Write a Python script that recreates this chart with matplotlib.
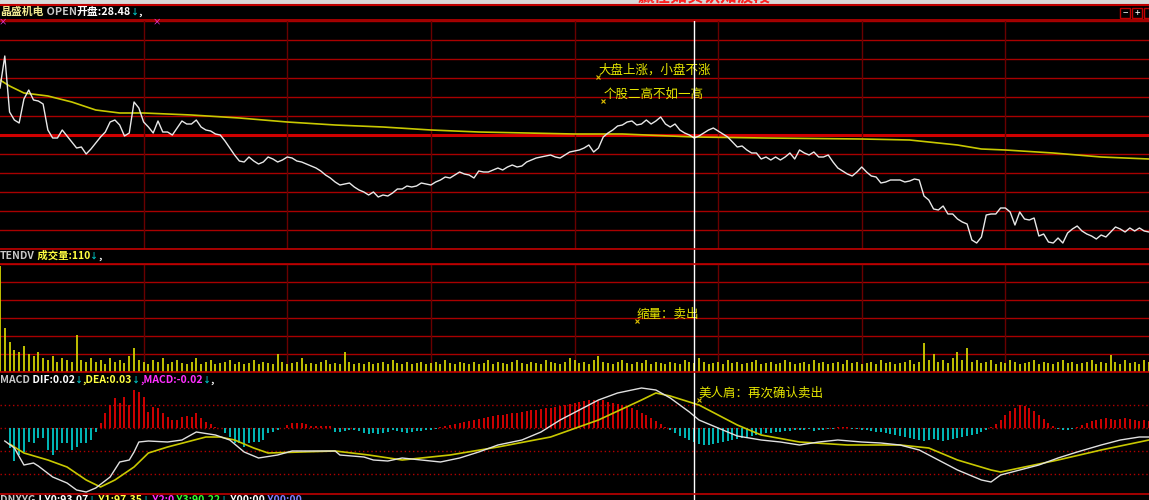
import matplotlib
matplotlib.use('Agg')
import matplotlib.pyplot as plt
from matplotlib.lines import Line2D
from matplotlib.patches import Rectangle
import numpy as np

plt.rcParams['font.family'] = ['Noto Sans CJK SC', 'DejaVu Sans']

# ---- data ----
prev_close = 28.01
price = [28.48, 28.80, 28.24, 28.16, 28.13, 28.37, 28.46, 28.36, 28.35, 28.32,
         28.06, 27.98, 27.98, 28.06, 28.00, 27.94, 27.88, 27.89, 27.82, 27.87,
         27.93, 27.99, 28.04, 28.14, 28.16, 28.11, 28.00, 28.03, 28.34, 28.28,
         28.14, 28.09, 28.03, 28.15, 28.04, 28.04, 28.01, 28.08, 28.15, 28.12,
         28.12, 28.16, 28.09, 28.06, 28.05, 28.02, 28.01, 27.95, 27.88, 27.81,
         27.75, 27.74, 27.79, 27.75, 27.72, 27.74, 27.79, 27.77, 27.74, 27.76,
         27.79, 27.78, 27.75, 27.74, 27.72, 27.70, 27.68, 27.65, 27.61, 27.58,
         27.54, 27.51, 27.52, 27.53, 27.49, 27.46, 27.44, 27.41, 27.44, 27.39,
         27.41, 27.40, 27.43, 27.47, 27.47, 27.50, 27.49, 27.50, 27.53, 27.52,
         27.51, 27.54, 27.56, 27.59, 27.58, 27.61, 27.64, 27.62, 27.61, 27.58,
         27.65, 27.64, 27.64, 27.66, 27.68, 27.66, 27.69, 27.71, 27.69, 27.70,
         27.74, 27.76, 27.78, 27.79, 27.80, 27.81, 27.79, 27.78, 27.81, 27.84,
         27.85, 27.86, 27.88, 27.91, 27.84, 27.88, 27.99, 28.03, 28.06, 28.10,
         28.11, 28.14, 28.15, 28.11, 28.12, 28.16, 28.12, 28.15, 28.19, 28.12,
         28.09, 28.12, 28.06, 28.03, 28.01, 27.98, 28.00, 28.03, 28.06, 28.08,
         28.05, 28.02, 27.99, 27.94, 27.89, 27.90, 27.86, 27.83, 27.83, 27.77,
         27.79, 27.76, 27.79, 27.76, 27.79, 27.83, 27.77, 27.86, 27.83, 27.81,
         27.84, 27.79, 27.79, 27.81, 27.74, 27.68, 27.65, 27.62, 27.60, 27.64,
         27.69, 27.64, 27.60, 27.59, 27.53, 27.54, 27.56, 27.56, 27.56, 27.54,
         27.55, 27.57, 27.56, 27.40, 27.36, 27.27, 27.26, 27.30, 27.22, 27.22,
         27.17, 27.14, 27.12, 26.96, 26.93, 26.99, 27.21, 27.22, 27.22, 27.28,
         27.28, 27.24, 27.11, 27.24, 27.17, 27.16, 27.18, 27.00, 27.02, 26.94,
         26.93, 26.98, 26.93, 27.03, 27.07, 27.10, 27.05, 27.02, 27.00, 26.97,
         27.01, 26.99, 27.04, 27.09, 27.07, 27.04, 27.08, 27.05, 27.08, 27.05,
         27.04]

avg_min = [0, 2, 5, 10, 15, 20, 25, 30, 40, 50, 60, 70, 80, 90, 100, 110, 120,
           130, 145, 160, 180, 190, 200, 205, 210, 220, 230, 240]
avg_price = [28.56, 28.50, 28.43, 28.40, 28.34, 28.26, 28.23, 28.23, 28.21, 28.18,
             28.14, 28.11, 28.09, 28.06, 28.04, 28.03, 28.02, 28.02, 27.99, 27.98,
             27.97, 27.96, 27.91, 27.87, 27.86, 27.83, 27.79, 27.77]

volume = [106, 44, 30, 22, 20, 26, 18, 16, 20, 14,
          12, 16, 10, 14, 12, 10, 37, 12, 10, 14,
          10, 12, 8, 14, 10, 12, 9, 16, 24, 12,
          10, 8, 12, 10, 14, 8, 10, 12, 9, 8,
          10, 14, 8, 10, 12, 8, 9, 10, 12, 8,
          10, 8, 9, 12, 8, 10, 9, 8, 18, 10,
          8, 9, 10, 14, 8, 9, 8, 10, 12, 8,
          9, 8, 20, 10, 8, 9, 8, 10, 8, 9,
          10, 8, 12, 9, 8, 10, 8, 9, 10, 8,
          9, 10, 8, 12, 9, 8, 10, 9, 8, 10,
          8, 9, 12, 8, 10, 9, 8, 10, 12, 9,
          8, 10, 9, 8, 12, 10, 9, 8, 10, 14,
          12, 9, 10, 8, 12, 16, 10, 9, 8, 10,
          12, 9, 8, 10, 9, 12, 8, 10, 9, 8,
          10, 9, 8, 12, 10, 9, 14, 10, 8, 9,
          10, 8, 12, 9, 10, 8, 9, 10, 12, 8,
          9, 10, 8, 9, 12, 10, 8, 9, 10, 8,
          12, 9, 10, 8, 9, 10, 8, 12, 9, 10,
          8, 9, 10, 8, 12, 9, 10, 8, 9, 10,
          12, 8, 10, 29, 12, 18, 10, 12, 9, 14,
          20, 12, 24, 10, 12, 9, 10, 12, 8, 10,
          9, 12, 10, 8, 9, 10, 12, 8, 10, 9,
          8, 10, 12, 9, 10, 8, 9, 10, 12, 8,
          10, 9, 17, 10, 8, 12, 9, 10, 8, 12,
          10]

macd_hist = [0, 0, -0.040, -0.066, -0.054, -0.048, -0.028, -0.030, -0.020, -0.020,
             -0.044, -0.054, -0.044, -0.030, -0.030, -0.044, -0.038, -0.030, -0.030, -0.024,
             -0.008, 0.010, 0.030, 0.046, 0.060, 0.050, 0.062, 0.046, 0.076, 0.072,
             0.062, 0.032, 0.042, 0.040, 0.030, 0.022, 0.016, 0.016, 0.022, 0.024,
             0.022, 0.030, 0.020, 0.012, 0.008, 0.002, 0, -0.010, -0.018, -0.030,
             -0.030, -0.038, -0.030, -0.028, -0.028, -0.024, -0.010, -0.008, -0.004, 0,
             0.006, 0.010, 0.010, 0.010, 0.008, 0.004, 0.004, 0.004, 0.004, 0.004,
             -0.008, -0.008, -0.006, -0.004, -0.004, -0.006, -0.010, -0.012, -0.010, -0.012,
             -0.010, -0.008, -0.004, -0.006, -0.008, -0.010, -0.008, -0.006, -0.006, -0.004,
             -0.004, -0.002, 0.002, 0.004, 0.006, 0.008, 0.010, 0.012, 0.014, 0.016,
             0.018, 0.020, 0.022, 0.024, 0.026, 0.026, 0.028, 0.030, 0.030, 0.032,
             0.034, 0.036, 0.036, 0.038, 0.040, 0.040, 0.042, 0.044, 0.046, 0.048,
             0.050, 0.052, 0.054, 0.056, 0.056, 0.054, 0.056, 0.052, 0.050, 0.048,
             0.046, 0.042, 0.040, 0.036, 0.030, 0.026, 0.020, 0.014, 0.008, 0.002,
             -0.004, -0.010, -0.016, -0.020, -0.024, -0.028, -0.032, -0.034, -0.034, -0.032,
             -0.030, -0.028, -0.026, -0.024, -0.022, -0.020, -0.018, -0.016, -0.014, -0.012,
             -0.010, -0.010, -0.008, -0.008, -0.006, -0.006, -0.004, -0.004, -0.004, -0.002,
             -0.006, -0.004, -0.004, -0.002, -0.002, 0.002, 0.002, 0.002, -0.002, -0.002,
             -0.004, -0.004, -0.006, -0.008, -0.008, -0.010, -0.012, -0.014, -0.016, -0.018,
             -0.020, -0.022, -0.024, -0.026, -0.024, -0.022, -0.024, -0.026, -0.024, -0.022,
             -0.020, -0.018, -0.016, -0.014, -0.012, -0.008, -0.004, 0.002, 0.008, 0.016,
             0.026, 0.034, 0.040, 0.046, 0.044, 0.040, 0.034, 0.026, 0.018, 0.010,
             0.004, -0.002, -0.004, -0.004, -0.002, 0.002, 0.006, 0.010, 0.014, 0.016,
             0.018, 0.020, 0.018, 0.016, 0.018, 0.020, 0.018, 0.016, 0.014, 0.016,
             0.014]

dif_min = [1, 3, 5, 7, 8, 11, 14, 16, 18, 20, 23, 25, 27, 28, 29, 31, 35, 38, 41, 45,
           48, 51, 54, 58, 61, 65, 70, 71, 76, 78, 81, 84, 88, 92, 96, 100, 104, 109,
           113, 117, 121, 125, 129, 134, 137, 140, 142, 144, 146, 150, 154, 159, 163,
           167, 171, 175, 180, 184, 188, 192, 196, 200, 205, 207, 209, 213, 217, 221,
           225, 230, 234, 238, 240]
dif = [-0.026, -0.040, -0.074, -0.070, -0.076, -0.098, -0.110, -0.124, -0.128, -0.120,
       -0.098, -0.068, -0.064, -0.048, -0.028, -0.026, -0.028, -0.024, -0.008, -0.014,
       -0.024, -0.048, -0.060, -0.054, -0.046, -0.046, -0.046, -0.054, -0.058, -0.064,
       -0.066, -0.060, -0.064, -0.068, -0.060, -0.048, -0.034, -0.024, -0.008, 0.016,
       0.036, 0.056, 0.070, 0.080, 0.076, 0.060, 0.046, 0.032, 0.016, 0.000,
       -0.016, -0.024, -0.028, -0.034, -0.028, -0.024, -0.028, -0.030, -0.034, -0.044,
       -0.064, -0.084, -0.104, -0.108, -0.094, -0.084, -0.074, -0.060, -0.048, -0.034,
       -0.024, -0.018, -0.018]

dea_min = [2, 5, 10, 14, 18, 21, 24, 28, 31, 35, 39, 43, 46, 49, 53, 56, 63, 70, 77,
           84, 94, 104, 115, 125, 134, 137, 140, 146, 150, 154, 159, 167, 177, 188,
           194, 200, 207, 209, 215, 221, 230, 240]
dea = [-0.032, -0.050, -0.064, -0.078, -0.104, -0.118, -0.104, -0.078, -0.050, -0.038,
       -0.028, -0.018, -0.018, -0.024, -0.040, -0.050, -0.048, -0.046, -0.054, -0.064,
       -0.054, -0.038, -0.018, 0.016, 0.056, 0.070, 0.064, 0.046, 0.026, 0.006,
       -0.014, -0.028, -0.034, -0.034, -0.040, -0.064, -0.084, -0.088, -0.076, -0.064,
       -0.044, -0.024]

cursor_min = 145
notes = [(125, 28.59, '大盘上涨，小盘不涨'), (126, 28.35, '个股二高不如一高')]
vol_note = (133, 51, '缩量：卖出')
macd_note = (146, 0.056, '美人肩：再次确认卖出')

# ---- layout helpers (pixel based) ----
W, H = 1149, 500
fig = plt.figure(figsize=(W / 100, H / 100), dpi=100, facecolor='black')


def fy(py):
    return 1 - py / H


GRID = '#a80000'
VGRID = '#6a0000'
YEL = '#e6e600'
CYAN = '#00c8c8'


def panel(top, bottom):
    ax = fig.add_axes([0, fy(bottom), 1, (bottom - top) / H], facecolor='black')
    ax.set_xlim(0, 240)
    ax.set_xticks([])
    ax.set_yticks([])
    for s in ax.spines.values():
        s.set_visible(False)
    return ax


# main price panel
ax1 = panel(21, 249)
step = 0.19
ax1.set_ylim(prev_close - 6 * step, prev_close + 6 * step)
for k in range(-6, 7):
    if k == 0:
        ax1.axhline(prev_close, color='#d00000', lw=2.2, zorder=1)
    else:
        ax1.axhline(prev_close + k * step, color=GRID, lw=1, zorder=1)
for m in range(30, 240, 30):
    ax1.axvline(m, color=VGRID, lw=1, zorder=1)
ax1.plot(avg_min, avg_price, color='#c8c800', lw=1.2, zorder=3)
ax1.plot(range(len(price)), price, color='#e8e8e8', lw=1, zorder=4)
for xm, yp, s in notes:
    ax1.plot(xm, yp, marker='x', ms=3, mew=0.8, color='#e0c000', zorder=5)
    ax1.text(xm, yp, s, color=YEL, fontsize=9, ha='left', va='bottom', zorder=5)

# volume panel
ax2 = panel(264, 372)
ax2.set_ylim(0, 108)
for k in range(0, 7):
    ax2.axhline(k * 18, color=GRID, lw=1, zorder=1)
for m in range(30, 240, 30):
    ax2.axvline(m, color=VGRID, lw=1, zorder=1)
ax2.vlines(range(len(volume)), 0, volume, color='#d0d000', lw=1.3, zorder=3)
ax2.plot(vol_note[0], vol_note[1], marker='x', ms=3, mew=0.8, color='#e0c000', zorder=5)
ax2.text(vol_note[0], vol_note[1], vol_note[2], color=YEL, fontsize=9, ha='left', va='bottom')

# MACD panel
ax3 = panel(372, 494)
ax3.set_ylim(-0.132, 0.112)
for v in [0.046, 0, -0.046, -0.092]:
    ax3.axhline(v, color='#b00000', lw=1, ls=(0, (1, 2)), zorder=1)
hist = np.array(macd_hist)
xs = np.arange(len(hist))
ax3.vlines(xs[hist > 0], 0, hist[hist > 0], color='#e00000', lw=1.3, zorder=2)
ax3.vlines(xs[hist < 0], 0, hist[hist < 0], color=CYAN, lw=1.3, zorder=2)
ax3.plot(dea_min, dea, color='#c8c800', lw=1.2, zorder=3)
ax3.plot(dif_min, dif, color='#e0e0e0', lw=1, zorder=4)
ax3.plot(macd_note[0], macd_note[1], marker='x', ms=3, mew=0.8, color='#e0c000', zorder=5)
ax3.text(macd_note[0], macd_note[1], macd_note[2], color=YEL, fontsize=9, ha='left', va='bottom')

# cursor line across panels
for ax in (ax1, ax2, ax3):
    ax.axvline(cursor_min, color='white', lw=1, zorder=6)
xc = cursor_min / 240
for a, b in [(249, 264), (494, 500)]:
    fig.add_artist(Line2D([xc, xc], [fy(b), fy(a)], color='white', lw=1))

# frame lines
fig.add_artist(Rectangle((0, fy(4)), 1, 4 / H, color='#d8d8d8', transform=fig.transFigure))
for py, lw in [(5, 1.5), (20, 1.2), (249, 1.2), (264, 1.2), (372, 1.2), (494, 1.2)]:
    fig.add_artist(Line2D([0, 1], [fy(py), fy(py)], color='#c00000', lw=lw))
fig.text(704 / W, fy(5), '赢在如实认知波段', color='#ff2020', fontsize=12,
         fontweight='bold', ha='center', va='bottom')

# header texts with mixed colours
renderer = fig.canvas.get_renderer()


def runs(x, py, parts, size=7.5):
    for s, c in parts:
        sz = 5.8 if s == '↓' else size
        t = fig.text(x / W, fy(py), s, color=c, fontsize=sz, fontweight='bold',
                     ha='left', va='center')
        x += t.get_window_extent(renderer=renderer).width


runs(0, 12, [('晶盛机电', '#f0e890'), (' OPEN', '#c8c8c8'), ('开盘:28.48', 'white'),
             ('↓', CYAN), (',', 'white')], size=7.8)
runs(0, 256, [('TENDV', '#c8c8c8'), (' 成交量:110', '#ffff40'), ('↓', CYAN), (',', 'white')])
runs(0, 380, [('MACD', '#c8c8c8'), (' DIF:0.02', 'white'), ('↓', CYAN),
              (',DEA:0.03', '#ffff40'), ('↓', CYAN), (',MACD:-0.02', '#ff30ff'),
              ('↓', CYAN), (',', 'white')])
runs(0, 500, [('DNXYG', '#c8c8c8'), (' LY0:93.07', 'white'), ('↓', CYAN),
              (' Y1:97.35', '#ffff40'), ('↓', CYAN), (' Y2:0', '#ff30ff'),
              (' Y3:90.22', '#30ff30'), ('↓', CYAN), (' Y00:00', 'white'),
              (' Y00:00', '#8080ff')])

# small markers and buttons
for px in (3, 157):
    fig.text(px / W, fy(22), '×', color='#ff40ff', fontsize=6, ha='center', va='center')
for i, s in enumerate(['−', '+']):
    x0 = 1120 + i * 12
    fig.add_artist(Rectangle((x0 / W, fy(18)), 10 / W, 10 / H, fill=False,
                             edgecolor='#c00000', lw=1, transform=fig.transFigure))
    fig.text((x0 + 5) / W, fy(13), s, color='white', fontsize=7, ha='center', va='center')
fig.add_artist(Rectangle((1144 / W, fy(18)), 10 / W, 10 / H, fill=False,
                         edgecolor='#c00000', lw=1, transform=fig.transFigure))

fig.savefig('out.png', dpi=100, facecolor='black')
